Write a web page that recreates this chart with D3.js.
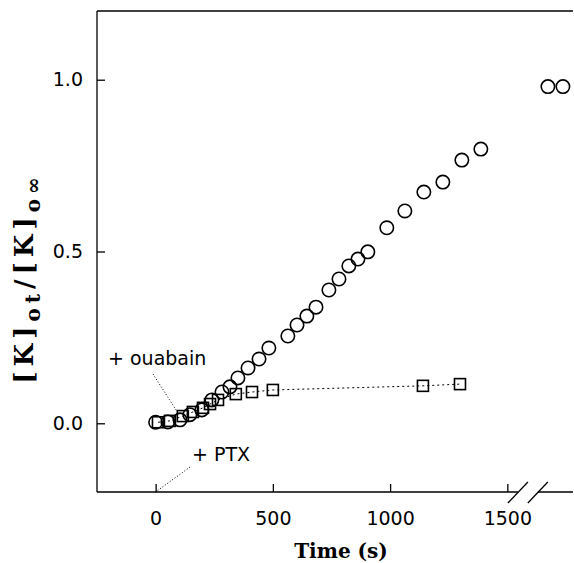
<!DOCTYPE html>
<html>
<head>
<script src="https://d3js.org/d3.v7.min.js"></script>
<style>
    body { margin: 0; background: #fff; }
    svg { display: block; }
    .tick text { font-family: "DejaVu Sans", sans-serif; font-size: 19px; fill: #000; }
    .note { font-family: "DejaVu Sans", sans-serif; font-size: 19px; }
    .title { font-family: "DejaVu Serif", serif; font-weight: bold; }
</style>
</head>
<body>
<script>
    // control: [K]o rise after PTX (circles)
    var ctrlT = [0, 52, 104, 146, 197, 240, 283, 317, 351, 394, 441, 483, 564, 603, 645, 684,
                 739, 782, 824, 863, 905, 986, 1063, 1144, 1225, 1306, 1387];
    var ctrlV = [0.003, 0.004, 0.01, 0.025, 0.039, 0.068, 0.091, 0.106, 0.132, 0.161, 0.187, 0.219,
                 0.254, 0.286, 0.312, 0.338, 0.388, 0.420, 0.458, 0.478, 0.499, 0.569, 0.618,
                 0.673, 0.702, 0.766, 0.798];
    // + ouabain (squares)
    var ouaT = [10, 61, 116, 159, 202, 232, 266, 342, 411, 500, 1140, 1298];
    var ouaV = [0.003, 0.007, 0.021, 0.033, 0.045, 0.056, 0.068, 0.085, 0.091, 0.097, 0.109, 0.114];
    // t = infinity samples, placed past the axis break
    var infT = [1673, 1737];
    var infV = [0.98, 0.98];
    var xTicks = [0, 500, 1000, 1500];
    var yTicks = [0, 0.5, 1.0];
    var breakT = [1545, 1630];

    var W = 574, H = 563;
    var svg = d3.select("body").append("svg").attr("width", W).attr("height", H);

    var x = d3.scaleLinear().domain([-250, 1780]).range([97, 573]);
    var y = d3.scaleLinear().domain([-0.2, 1.2]).range([492, 11]);

    // frame: left and top
    svg.append("line").attr("x1", x(-250)).attr("x2", x(-250)).attr("y1", y(1.2)).attr("y2", y(-0.2))
        .attr("stroke", "#000").attr("stroke-width", 1.3);
    svg.append("line").attr("x1", x(-250)).attr("x2", x(1780)).attr("y1", y(1.2)).attr("y2", y(1.2))
        .attr("stroke", "#000").attr("stroke-width", 1.3);

    // bottom axis, broken
    svg.append("line").attr("x1", x(-250)).attr("x2", x(breakT[0])).attr("y1", y(-0.2)).attr("y2", y(-0.2))
        .attr("stroke", "#000").attr("stroke-width", 1.3);
    svg.append("line").attr("x1", x(breakT[1])).attr("x2", x(1780)).attr("y1", y(-0.2)).attr("y2", y(-0.2))
        .attr("stroke", "#000").attr("stroke-width", 1.3);
    breakT.forEach(function (t) {
        svg.append("line").attr("x1", x(t) - 10).attr("x2", x(t) + 10)
            .attr("y1", y(-0.2) + 11).attr("y2", y(-0.2) - 10)
            .attr("stroke", "#000").attr("stroke-width", 1.3);
    });

    var xAxis = svg.append("g").attr("transform", "translate(0," + y(-0.2) + ")")
        .call(d3.axisBottom(x).tickValues(xTicks).tickFormat(d3.format("d"))
            .tickSizeInner(-8).tickSizeOuter(0).tickPadding(20));
    xAxis.select(".domain").remove();
    xAxis.selectAll(".tick line").attr("stroke-width", 1.3);

    var yAxis = svg.append("g").attr("transform", "translate(" + x(-250) + ",0)")
        .call(d3.axisLeft(y).tickValues(yTicks).tickFormat(d3.format(".1f")).tickSizeInner(-8).tickSizeOuter(0).tickPadding(14));
    yAxis.select(".domain").remove();
    yAxis.selectAll(".tick line").attr("stroke-width", 1.3);

    // ouabain: dotted line + squares
    var ouaPts = ouaT.map(function (t, i) { return [t, ouaV[i]]; });
    svg.append("path").datum(ouaPts)
        .attr("d", d3.line().x(function (d) { return x(d[0]); }).y(function (d) { return y(d[1]); }))
        .attr("fill", "none").attr("stroke", "#000").attr("stroke-width", 1).attr("stroke-dasharray", "2,3");
    svg.selectAll("rect.sq").data(ouaPts).enter().append("rect").attr("class", "sq")
        .attr("x", function (d) { return x(d[0]) - 5.5; })
        .attr("y", function (d) { return y(d[1]) - 5.5; })
        .attr("width", 11).attr("height", 11)
        .attr("fill", "none").attr("stroke", "#000").attr("stroke-width", 1.6);

    // control circles
    var ctrlPts = ctrlT.map(function (t, i) { return [t, ctrlV[i]]; })
        .concat(infT.map(function (t, i) { return [t, infV[i]]; }));
    svg.selectAll("circle.c").data(ctrlPts).enter().append("circle").attr("class", "c")
        .attr("cx", function (d) { return x(d[0]); })
        .attr("cy", function (d) { return y(d[1]); })
        .attr("r", 6.7)
        .attr("fill", "none").attr("stroke", "#000").attr("stroke-width", 1.6);

    // annotations
    svg.append("text").attr("class", "note").attr("x", 108).attr("y", 365).text("+ ouabain");
    svg.append("line").attr("x1", 153).attr("y1", 374).attr("x2", x(100)).attr("y2", y(0.025))
        .attr("stroke", "#000").attr("stroke-width", 1).attr("stroke-dasharray", "1,2");
    svg.append("text").attr("class", "note").attr("x", 192).attr("y", 461).text("+ PTX");
    svg.append("line").attr("x1", 190).attr("y1", 467).attr("x2", x(0)).attr("y2", y(-0.2))
        .attr("stroke", "#000").attr("stroke-width", 1).attr("stroke-dasharray", "1,2");

    // axis titles
    svg.append("text").attr("class", "title").attr("x", 341).attr("y", 558)
        .attr("text-anchor", "middle").attr("font-size", 20).text("Time (s)");

    var yl = svg.append("text").attr("class", "title")
        .attr("transform", "translate(33,278) rotate(-90)")
        .attr("text-anchor", "middle").attr("font-size", 26).attr("letter-spacing", 5);
    yl.append("tspan").text("[K]");
    yl.append("tspan").attr("dy", 7).attr("font-size", 20).text("ot");
    yl.append("tspan").attr("dy", -7).text("/[K]");
    yl.append("tspan").attr("dy", 7).attr("font-size", 20).text("o∞");
</script>
</body>
</html>
